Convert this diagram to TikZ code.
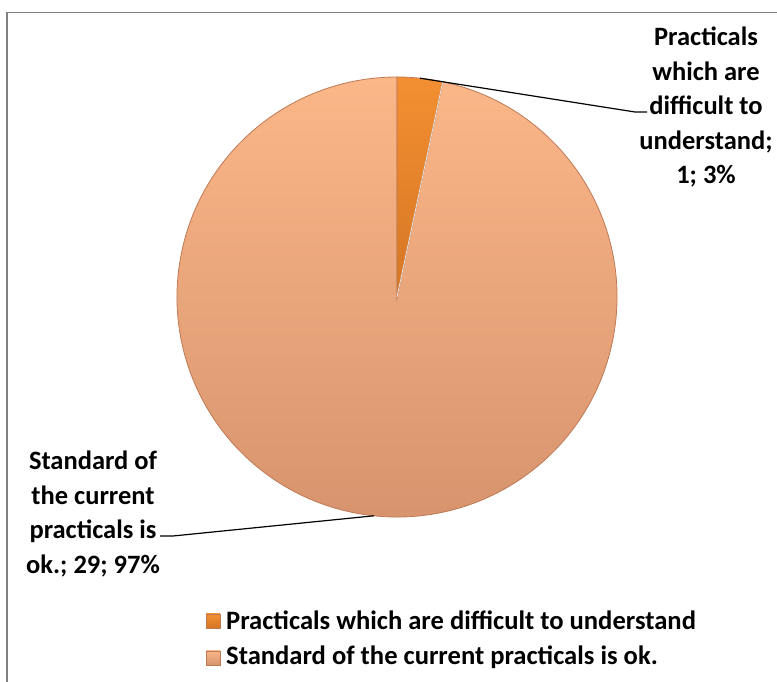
\documentclass[tikz,border=0pt]{standalone}
\usepackage{fontspec}
\setmainfont{Carlito}
\definecolor{peachtop}{RGB}{251,183,136}
\definecolor{peachbot}{RGB}{214,146,108}
\definecolor{orangetop}{RGB}{243,143,50}
\definecolor{orangebot}{RGB}{214,118,36}
\definecolor{rimcol}{RGB}{190,122,86}
\begin{document}
\begin{tikzpicture}[x=1pt,y=1pt,
  lbl/.style={align=center,font=\fontsize{26.5}{34.5}\selectfont\bfseries,inner sep=0pt},
  legtext/.style={anchor=west,font=\fontsize{26.6}{30}\selectfont\bfseries,inner sep=0pt},
  legbox/.style={minimum size=14pt,inner sep=0pt,draw=rimcol,line width=0.4pt},
  leader/.style={black,line width=1.2pt}]
  \useasboundingbox (0,0) rectangle (777,682);

  % Frame
  \draw[gray,line width=1.6pt] (777,669.5) -- (7,669.5) -- (7,0);

  % Pie
  \coordinate (c) at (397,385);
  \shade[top color=peachtop,bottom color=peachbot,draw=rimcol,line width=0.8pt]
    (c) -- ++(78:220) arc (78:-270:220) -- cycle;
  \shade[top color=orangetop,bottom color=orangebot,draw=rimcol,line width=0.8pt]
    (c) -- ++(90:220) arc (90:78:220) -- cycle;
  \draw[white!80!gray,line width=0.8pt] (c) -- ++(78:220);

  % Anchors of the leader lines on the rim
  \path (c) ++(84:220) coordinate (rimA);
  \path (c) ++(-96:220) coordinate (rimB);

  % Data labels
  \node[lbl] (labA) at (706,575) {Practicals\\which are\\difficult to\\understand;\\1; 3\%};
  \node[lbl] (labB) at (93,168) {Standard of\\the current\\practicals is\\ok.; 29; 97\%};

  \coordinate (kneeA) at (635,570);
  \coordinate (endA) at (647,570);
  \coordinate (kneeB) at (173,146);
  \coordinate (endB) at (160,146);
  \draw[leader] (rimA) -- (kneeA) -- (endA);
  \draw[leader] (rimB) -- (kneeB) -- (endB);

  % Legend
  \node[legbox,top color=orangetop,bottom color=orangebot] (keyA) at (213,61) {};
  \node[legtext] (txtA) at (226,62) {Practicals which are difficult to understand};
  \node[legbox,top color=peachtop,bottom color=peachbot] (keyB) at (213,24) {};
  \node[legtext] (txtB) at (226,25) {Standard of the current practicals is ok.};
\end{tikzpicture}
\end{document}
